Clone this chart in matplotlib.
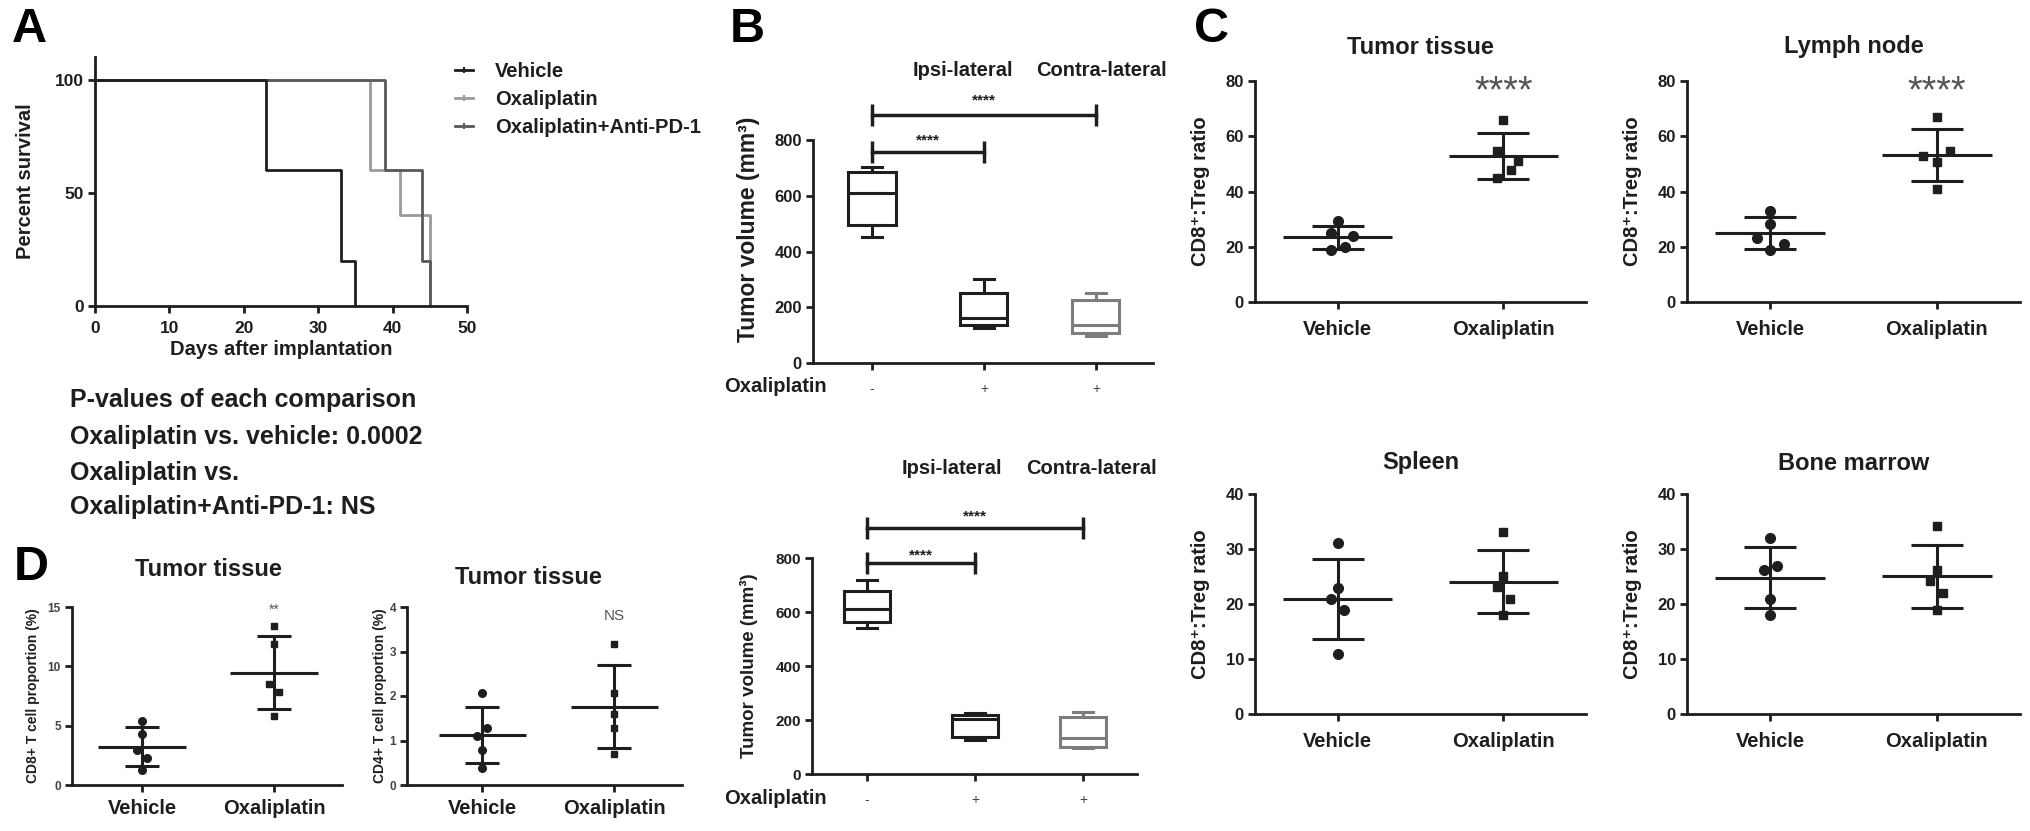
import matplotlib.pyplot as plt
import numpy as np
from matplotlib.lines import Line2D

plt.rcParams['font.family'] = ['Liberation Sans', 'DejaVu Sans']
plt.rcParams['font.weight'] = 'bold'
plt.rcParams['axes.labelweight'] = 'bold'
plt.rcParams['axes.linewidth'] = 2

INK = '#1e1e1e'

# ---- A: survival ----
days_vehicle = [0, 23, 33, 35]
surv_vehicle = [100, 60, 20, 0]
days_oxa = [0, 37, 41, 45]
surv_oxa = [100, 60, 40, 0]
days_combo = [0, 39, 44, 45]
surv_combo = [100, 60, 20, 0]
surv_names = ['Vehicle', 'Oxaliplatin', 'Oxaliplatin+Anti-PD-1']
pvalue_lines = ['P-values of each comparison',
                'Oxaliplatin vs. vehicle: 0.0002',
                'Oxaliplatin vs.',
                'Oxaliplatin+Anti-PD-1: NS']

# ---- B: box summaries (whislo, q1, med, q3, whishi) ----
b_ticks = ['-', '+', '+']
b_headers = ['Ipsi-lateral', 'Contra-lateral']
b_top = [(452, 495, 610, 685, 703), (125, 136, 161, 251, 301), (97, 108, 136, 226, 251)]
b_bottom = [(540, 564, 610, 679, 719), (126, 137, 204, 218, 226), (96, 100, 133, 211, 230)]

# ---- C / D: individual mice ----
groups = ['Vehicle', 'Oxaliplatin']
tumor_vehicle = [29.2, 25.0, 24.0, 19.9, 18.9]
tumor_oxa = [65.9, 54.8, 51.1, 47.8, 44.8]
lymph_vehicle = [33.1, 28.2, 23.1, 21.0, 18.9]
lymph_oxa = [66.9, 52.9, 54.8, 50.8, 40.8]
spleen_vehicle = [31.1, 23.0, 21.0, 18.9, 10.9]
spleen_oxa = [33.1, 25.1, 23.1, 20.9, 18.0]
marrow_vehicle = [32.0, 26.1, 27.0, 20.9, 18.0]
marrow_oxa = [34.1, 26.1, 24.1, 22.0, 18.9]
cd8_vehicle = [5.4, 4.27, 2.95, 2.25, 1.26]
cd8_oxa = [13.4, 11.9, 8.5, 7.8, 5.8]
cd4_vehicle = [2.07, 1.27, 1.09, 0.79, 0.39]
cd4_oxa = [3.17, 2.07, 1.59, 1.27, 0.69]

# horizontal spread of the dots (layout only)
jit_a = [0, -0.04, 0.09, 0.045, -0.04]
jit_b = [0, 0, -0.08, 0.08, 0]
jit_c = [0, -0.08, 0.08, 0, 0]
jit_d = [0, 0, -0.04, 0.04, 0]
jit_e = [0, -0.04, 0.04, 0, 0]
jit_f = [0, 0.04, -0.04, 0, 0]
jit_0 = [0, 0, 0, 0, 0]

W, H = 2031, 831
fig = plt.figure(figsize=(W / 100, H / 100), dpi=100)


def add_ax(l, t, r, b):
    return fig.add_axes([l / W, 1 - b / H, (r - l) / W, (b - t) / H])


def ftext(x, y, s, **kw):
    kw.setdefault('ha', 'center')
    kw.setdefault('va', 'center')
    kw.setdefault('color', INK)
    fig.text(x / W, 1 - y / H, s, **kw)


def style(ax, tick_size=12):
    ax.spines['top'].set_visible(False)
    ax.spines['right'].set_visible(False)
    ax.spines['left'].set_color(INK)
    ax.spines['bottom'].set_color(INK)
    ax.tick_params(width=2, length=5, color=INK, labelcolor=INK, labelsize=tick_size, pad=3)


def ylab(ax, s, xpx, l, r, size, yfrac=0.5):
    ax.set_ylabel(s, fontsize=size, color=INK)
    ax.yaxis.set_label_coords((xpx - l) / (r - l), yfrac)


# ================= A =================
l, t, r, b = 95, 57, 467, 306
axA = add_ax(l, t, r, b)
style(axA, 12.5)
axA.step(days_oxa, surv_oxa, where='post', color='#9a9a9a', lw=2)
axA.step(days_combo, surv_combo, where='post', color='#5a5a5a', lw=2)
axA.step(days_vehicle, surv_vehicle, where='post', color=INK, lw=2)
axA.set_xlim(0, 50)
axA.set_ylim(0, 110)
axA.set_xticks([0, 10, 20, 30, 40, 50])
axA.set_yticks([0, 50, 100])
axA.tick_params(axis='x', pad=6)
axA.set_xlabel('Days after implantation', fontsize=14.5, color=INK, labelpad=3)
ylab(axA, 'Percent survival', 35, l, r, 14.5)
handles = [Line2D([0], [0], color=c, lw=2, marker='|', ms=5, mew=1.5)
           for c in [INK, '#9a9a9a', '#5a5a5a']]
fig.legend(handles, surv_names, loc='upper left', bbox_to_anchor=(455 / W, 1 - 62 / H),
           frameon=False, fontsize=14.5, handlelength=0.9, handletextpad=1.1,
           labelspacing=0.45, borderpad=0, borderaxespad=0, labelcolor=INK)
for yy, s in zip([400, 437, 473, 507], pvalue_lines):
    ftext(70, yy, s, ha='left', fontsize=18)


# ================= B =================
def box_panel(ax, stats, brackets, stars_y, cap_h):
    cols = [INK, INK, '#7d7d7d']
    for i, (st, c) in enumerate(zip(stats, cols)):
        d = dict(whislo=st[0], q1=st[1], med=st[2], q3=st[3], whishi=st[4])
        ax.bxp([d], positions=[i], widths=0.42, capwidths=0.18, showfliers=False,
               patch_artist=True,
               boxprops=dict(facecolor='white', edgecolor=c, lw=2.2),
               medianprops=dict(color=c, lw=2.2),
               whiskerprops=dict(color=c, lw=2.2),
               capprops=dict(color=c, lw=2.2))
    for x2, yb, ys in zip([1, 2], brackets, stars_y):
        ax.plot([0, x2], [yb, yb], color=INK, lw=2.5, clip_on=False)
        ax.vlines([0, x2], yb - cap_h, yb + cap_h, color=INK, lw=2.5, clip_on=False)
        ax.text(x2 / 2, ys, '****', ha='center', va='center', fontsize=11, color=INK)
    ax.set_ylim(0, 800)
    ax.set_yticks([0, 200, 400, 600, 800])
    ax.set_xticks([0, 1, 2])
    ax.set_xticklabels(b_ticks, fontsize=10, fontweight='normal', color='#444444')
    ax.tick_params(axis='x', pad=9)


l, t, r, b = 813, 140, 1153, 363
axB1 = add_ax(l, t, r, b)
style(axB1, 12)
box_panel(axB1, b_top, [756, 889], [799, 943], 40)
axB1.set_xlim(-0.527, 2.51)
ylab(axB1, 'Tumor volume (mm³)', 760, l, r, 16.5, 0.6)
ftext(963, 70, b_headers[0], fontsize=14.5)
ftext(1101, 70, b_headers[1], fontsize=14.5)
ftext(775, 387, 'Oxaliplatin', fontsize=14.5)

l, t, r, b = 812, 558, 1137, 774
axB2 = add_ax(l, t, r, b)
style(axB2, 11)
box_panel(axB2, b_bottom, [781, 911], [811, 952], 40)
axB2.set_xlim(-0.51, 2.5)
ylab(axB2, 'Tumor volume (mm³)', 758, l, r, 13.5)
ftext(952, 468, b_headers[0], fontsize=14.5)
ftext(1091, 468, b_headers[1], fontsize=14.5)
ftext(775, 798, 'Oxaliplatin', fontsize=14.5)


# ================= C / D =================
def dot_panel(ax, series, jits, half, cap, ms):
    for i, (vals, jit, m) in enumerate(zip(series, jits, ['o', 's'])):
        v = np.array(vals)
        ax.plot(i + np.array(jit), v, m, color=INK, ms=ms if m == 'o' else ms * 0.9,
                ls='none', zorder=3, clip_on=False)
        mean, sd = v.mean(), v.std(ddof=1)
        ax.hlines(mean, i - half, i + half, color=INK, lw=2.2, zorder=2)
        ax.errorbar(i, mean, yerr=sd, fmt='none', ecolor=INK, elinewidth=2.2,
                    capsize=cap, capthick=2.2, zorder=2)
    ax.set_xticks([0, 1])


c_panels = [
    ((1255, 81, 1586, 302), [tumor_vehicle, tumor_oxa], [jit_a, jit_a], 'Tumor tissue', 47, [0, 20, 40, 60, 80], True),
    ((1687, 81, 2020, 302), [lymph_vehicle, lymph_oxa], [jit_b, jit_c], 'Lymph node', 47, [0, 20, 40, 60, 80], True),
    ((1255, 494, 1586, 714), [spleen_vehicle, spleen_oxa], [jit_d, jit_d], 'Spleen', 463, [0, 10, 20, 30, 40], False),
    ((1687, 494, 2020, 714), [marrow_vehicle, marrow_oxa], [jit_e, jit_d], 'Bone marrow', 463, [0, 10, 20, 30, 40], False),
]
for (l, t, r, b), series, jits, title, ty, ticks, stars in c_panels:
    ax = add_ax(l, t, r, b)
    style(ax, 12)
    dot_panel(ax, series, jits, 0.33, 19, 7)
    ax.set_xlim(-0.5, 1.5)
    ax.set_ylim(0, ticks[-1])
    ax.set_yticks(ticks)
    ax.set_xticklabels(groups, fontsize=14.5)
    ax.tick_params(axis='x', pad=8)
    ylab(ax, 'CD8⁺:Treg ratio', l - 45, l, r, 14.5)
    ftext((l + r) / 2, ty, title, fontsize=17)
    if stars:
        ax.text(1, 76, '****', ha='center', va='center', fontsize=27,
                fontweight='normal', color='#555555')

d_panels = [
    ((72, 607, 342, 785), [cd8_vehicle, cd8_oxa], [jit_d, jit_d], (-0.53, 1.515),
     [0, 5, 10, 15], 'CD8+ T cell proportion (%)', 40, (208, 570), '**', 14.8),
    ((407, 607, 682, 785), [cd4_vehicle, cd4_oxa], [jit_f, jit_0], (-0.57, 1.515),
     [0, 1, 2, 3, 4], 'CD4+ T cell proportion (%)', 387, (528, 578), 'NS', 3.8),
]
for (l, t, r, b), series, jits, xl, ticks, ytxt, yx, (tx, ty), mark, my in d_panels:
    ax = add_ax(l, t, r, b)
    style(ax, 8.5)
    ax.tick_params(axis='y', labelcolor='#444444')
    dot_panel(ax, series, jits, 0.33, 12.5, 5.5)
    ax.set_xlim(*xl)
    ax.set_ylim(0, ticks[-1])
    ax.set_yticks(ticks)
    ax.set_xticklabels(groups, fontsize=14.5)
    ax.tick_params(axis='x', pad=5)
    ylab(ax, ytxt, yx, l, r, 10)
    ftext(tx, ty, 'Tumor tissue', fontsize=17)
    ax.text(1, my, mark, ha='center', va='center', fontsize=11 if mark == 'NS' else 10,
            fontweight='normal', color='#555555')

# panel letters
for x, y, s in [(29, 30, 'A'), (747, 30, 'B'), (1212, 30, 'C'), (31, 568, 'D')]:
    ftext(x, y, s, fontsize=35, color='black')

fig.savefig('out.png', dpi=100)
